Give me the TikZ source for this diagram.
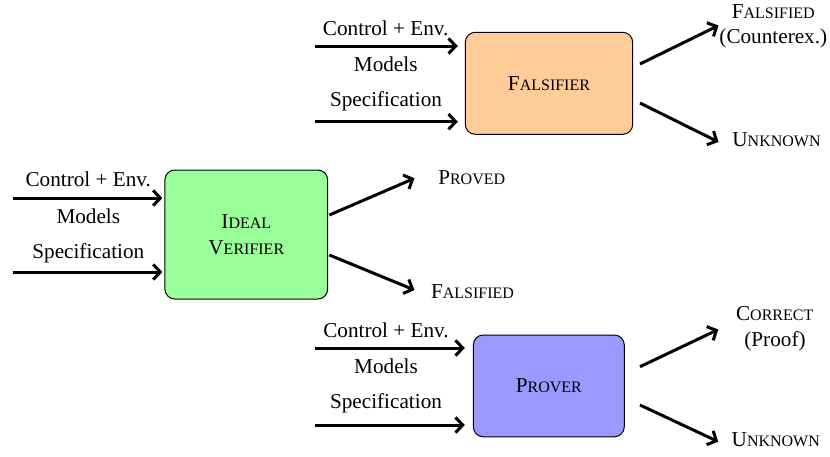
\documentclass[tikz,border=0pt]{standalone}
\usepackage{fontspec}
\setmainfont{Liberation Serif}
\usetikzlibrary{arrows.meta}

% small capitals built from a full-size initial and reduced capitals
\newcommand\smc[2]{#1{\fontsize{8}{9.6}\selectfont #2}}

\begin{document}
\begin{tikzpicture}[x=0.5pt,y=-0.5pt,
  every node/.style={font=\fontsize{10.6}{12.9}\selectfont, inner sep=0pt},
  unit/.style={draw=black, line width=0.5pt, rounded corners=5pt, align=center},
  flow/.style={line width=1.5pt, -{Straight Barb[length=3.6pt,width=7.6pt]}},
  lbl/.style={anchor=base, align=center},
]
\useasboundingbox (0,0) rectangle (830,456);

% ---------- processing units ----------
\node[unit, fill=orange!40, minimum width=83.7pt, minimum height=51pt]
  (fals) at (549,83.3) {\smc{F}{ALSIFIER}};
\node[unit, fill=green!40, minimum width=81.4pt, minimum height=64.5pt]
  (ver) at (246.3,234.5) {\smc{I}{DEAL}\\\smc{V}{ERIFIER}};
\node[unit, fill=blue!40, minimum width=75.5pt, minimum height=50.9pt]
  (prov) at (548.8,385.9) {\smc{P}{ROVER}};

% ---------- inputs of the falsifier ----------
\coordinate (fi1) at (314.7,46);
\coordinate (fi2) at (314.7,121.7);
\draw[flow, shorten >=3.5pt] (fi1) -- (fi1 -| fals.west);
\draw[flow, shorten >=3.5pt] (fi2) -- (fi2 -| fals.west);
\node[lbl] (fl1) at (385.7,35.7) {Control + Env.};
\node[lbl] (fl2) at (385.7,71) {Models};
\node[lbl] (fl3) at (386,106.7) {Specification};

% ---------- inputs of the ideal verifier ----------
\coordinate (vi1) at (12.7,198);
\coordinate (vi2) at (12.7,272);
\draw[flow, shorten >=1pt] (vi1) -- (vi1 -| ver.west);
\draw[flow, shorten >=1pt] (vi2) -- (vi2 -| ver.west);
\node[lbl] (vl1) at (88.3,186.7) {Control + Env.};
\node[lbl] (vl2) at (88.3,223) {Models};
\node[lbl] (vl3) at (88.3,258.5) {Specification};

% ---------- inputs of the prover ----------
\coordinate (pi1) at (314.7,348);
\coordinate (pi2) at (314.7,425);
\draw[flow, shorten >=4pt] (pi1) -- (pi1 -| prov.west);
\draw[flow, shorten >=4pt] (pi2) -- (pi2 -| prov.west);
\node[lbl] (pl1) at (386,337.8) {Control + Env.};
\node[lbl] (pl2) at (386,373.4) {Models};
\node[lbl] (pl3) at (386,408.8) {Specification};

% ---------- outputs of the ideal verifier ----------
\coordinate (vo1s) at (329.3,215);
\coordinate (vo1e) at (414.5,178.3);
\coordinate (vo2s) at (329.3,255);
\coordinate (vo2e) at (414.5,290);
\draw[flow] (vo1s) -- (vo1e);
\draw[flow] (vo2s) -- (vo2e);
\node[lbl] (vout1) at (471.7,184.3) {\smc{P}{ROVED}};
\node[lbl] (vout2) at (472.5,298.3) {\smc{F}{ALSIFIED}};

% ---------- outputs of the falsifier ----------
\coordinate (fo1s) at (640,64);
\coordinate (fo1e) at (718.5,25.5);
\coordinate (fo2s) at (640,103);
\coordinate (fo2e) at (718.5,142);
\draw[flow] (fo1s) -- (fo1e);
\draw[flow] (fo2s) -- (fo2e);
\node[lbl] (fout1) at (773.3,18.3) {\smc{F}{ALSIFIED}};
\node[lbl] (fout1b) at (773.3,43) {(Counterex.)};
\node[lbl] (fout2) at (776.5,146.7) {\smc{U}{NKNOWN}};

% ---------- outputs of the prover ----------
\coordinate (po1s) at (640,366.7);
\coordinate (po1e) at (718.3,329.5);
\coordinate (po2s) at (640,405);
\coordinate (po2e) at (718.3,441.7);
\draw[flow] (po1s) -- (po1e);
\draw[flow] (po2s) -- (po2e);
\node[lbl] (pout1) at (774.7,320.7) {\smc{C}{ORRECT}};
\node[lbl] (pout1b) at (775,346.7) {(Proof)};
\node[lbl] (pout2) at (775.8,446.7) {\smc{U}{NKNOWN}};
\end{tikzpicture}
\end{document}
